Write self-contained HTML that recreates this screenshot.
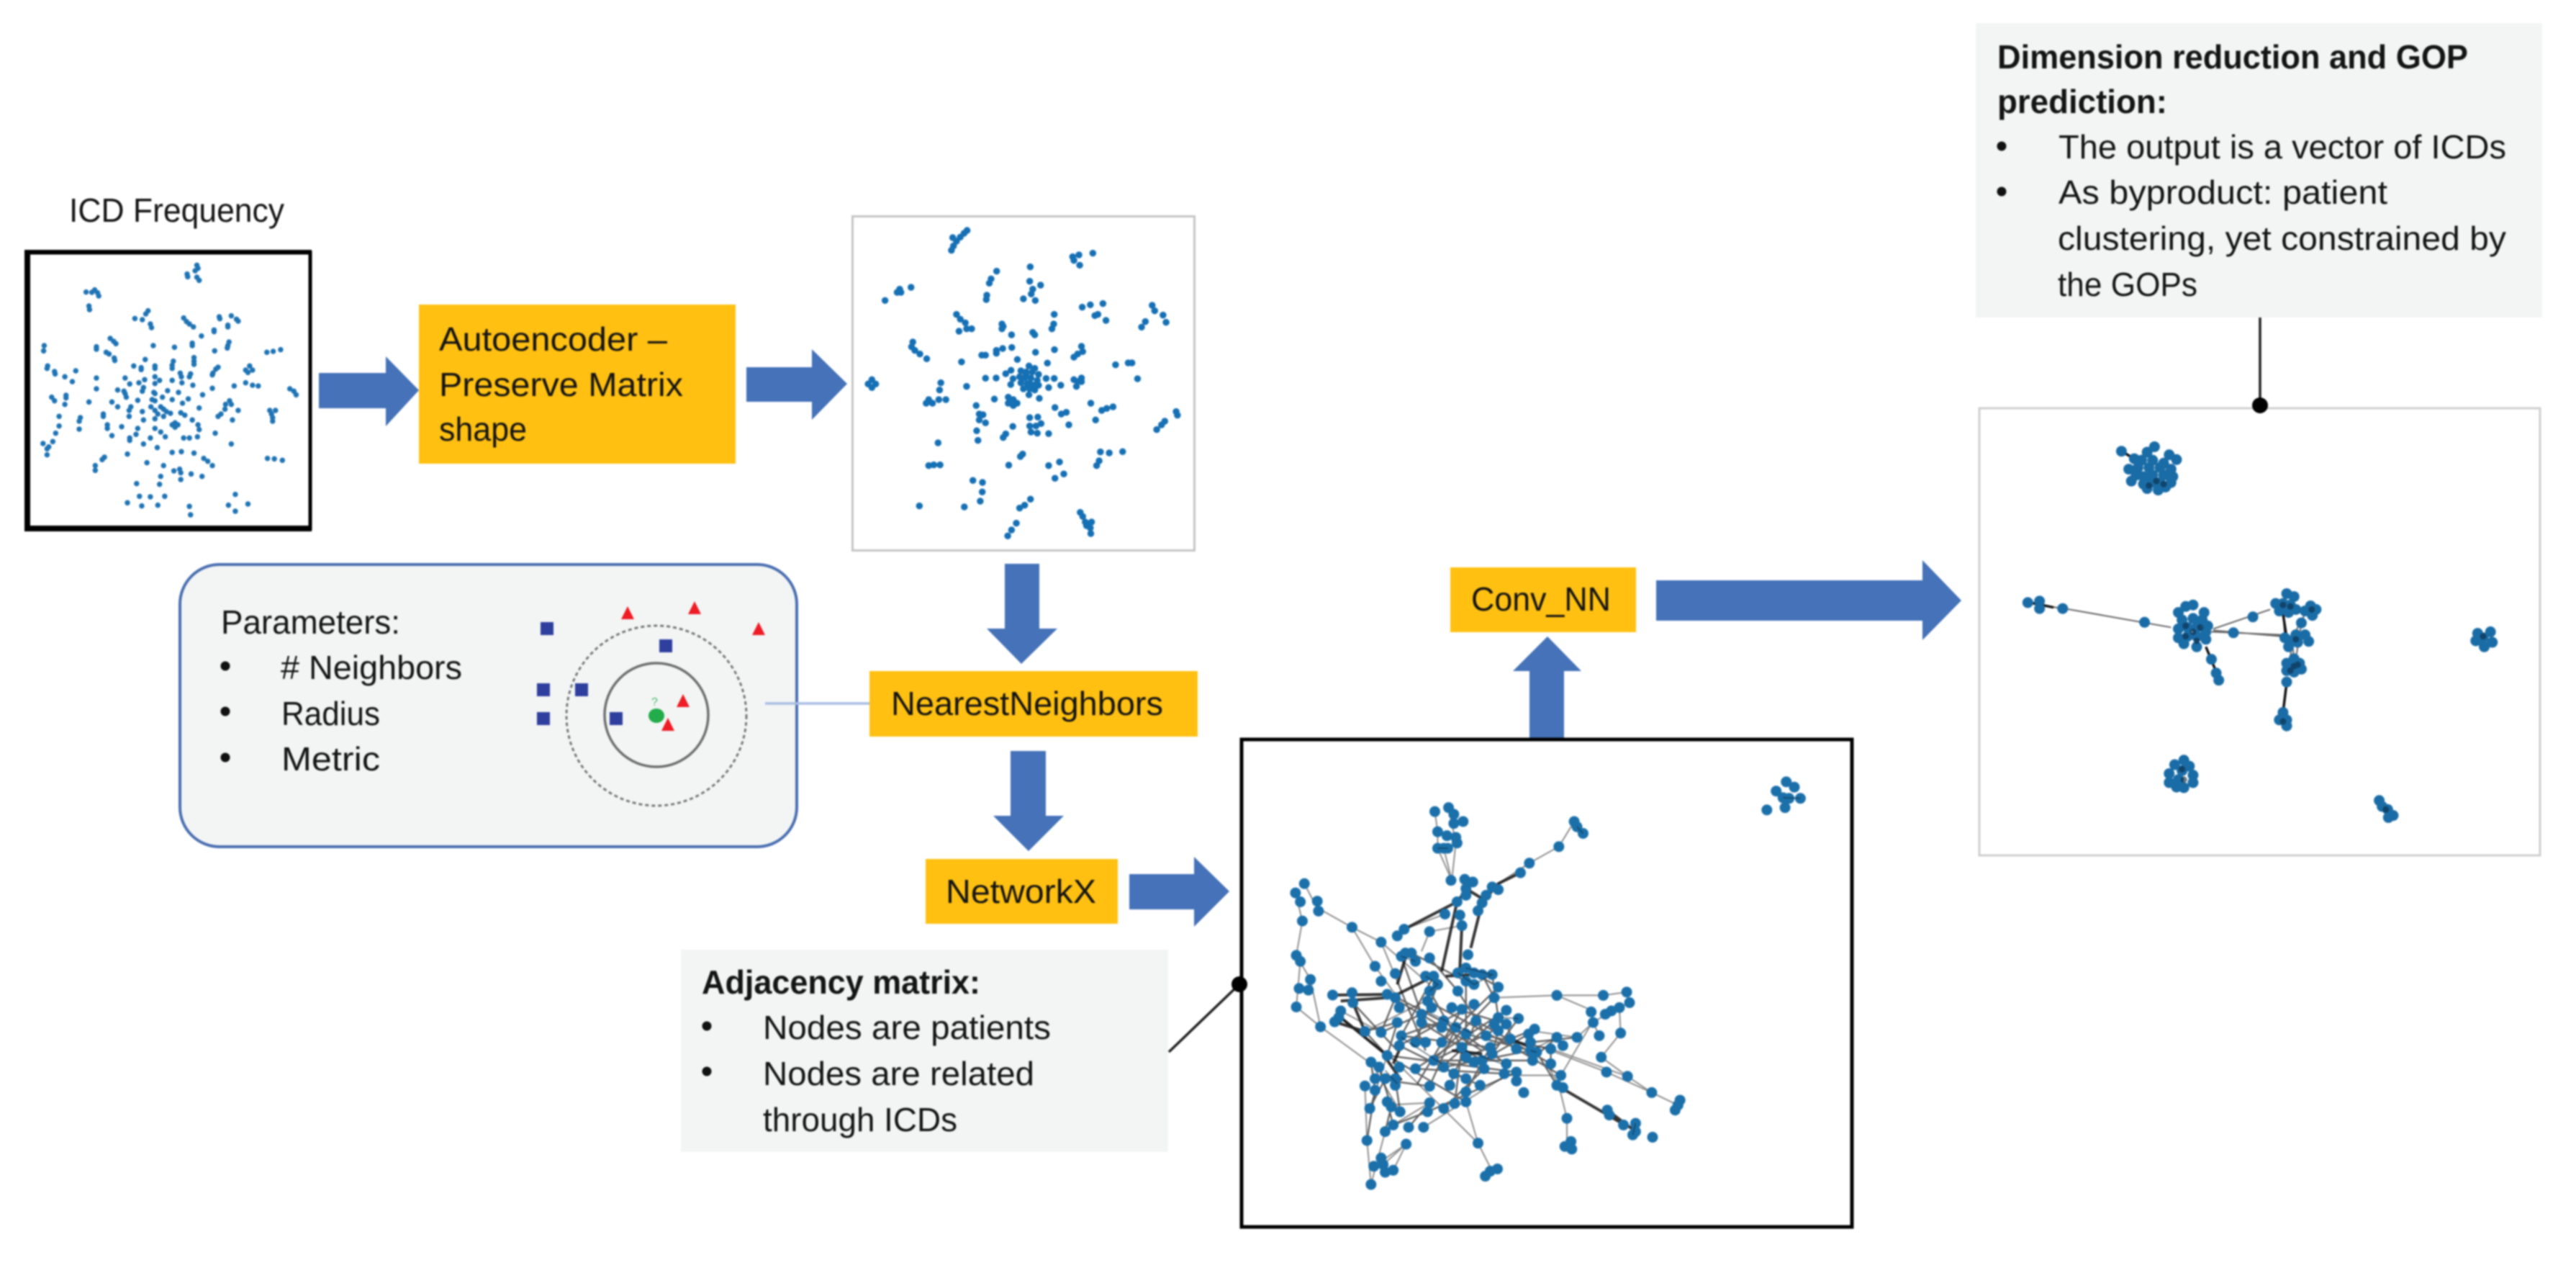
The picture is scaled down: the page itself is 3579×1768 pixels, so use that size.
<!DOCTYPE html>
<html><head><meta charset="utf-8"><title>Diagram</title>
<style>
html,body{margin:0;padding:0;background:#fff;width:3579px;height:1768px;overflow:hidden}
svg{display:block;filter:blur(1px)}
text{font-family:"Liberation Sans",sans-serif;font-size:46px;fill:#141414}
.b{font-weight:bold}
.d{fill:none;stroke-linecap:round;vector-effect:non-scaling-stroke}
.e{fill:none;vector-effect:non-scaling-stroke}
</style></head><body>
<svg xmlns="http://www.w3.org/2000/svg" width="3579" height="1768" viewBox="0 0 3579 1768">
<rect width="3579" height="1768" fill="#fff"/>

<!-- ICD frequency frame -->
<text x="96" y="308" textLength="299" lengthAdjust="spacingAndGlyphs">ICD Frequency</text>
<path d="M37 351H431V734H37Z" fill="#fff" stroke="#000" stroke-width="5"/>
<rect x="34" y="348" width="8" height="390" fill="#000"/><rect x="34" y="347" width="399" height="6" fill="#000"/><rect x="34" y="730" width="399" height="8" fill="#000"/>
<g transform="translate(0 250) scale(.7974 .3333)"><path class="d" stroke="#1f74b4" stroke-width="7.500" d="M343 355h.01M345 368h.01M340 378h.01M326 392h.01M327 403h.01M343 405h.01M347 418h.01M165 458h.01M150 467h.01M160 468h.01M170 470h.01M172 483h.01M155 525h.01M156 540h.01M258 545h.01M254 558h.01M235 577h.01M248 582h.01M262 600h.01M264 615h.01M320 575h.01M325 590h.01M330 600h.01M337 612h.01M382 570h.01M383 578h.01M403 566h.01M412 580h.01M415 588h.01M397 605h.01M397 612h.01M373 625h.01M373 632h.01M351 650h.01M192 660h.01M198 672h.01M202 682h.01M267 690h.01M304 697h.01M335 680h.01M335 690h.01M399 675h.01M397 690h.01M396 700h.01M77 690h.01M76 712h.01M168 695h.01M168 705h.01M185 718h.01M190 725h.01M199 742h.01M200 752h.01M374 712h.01M465 718h.01M476 714h.01M489 707h.01M253 748h.01M338 740h.01M338 755h.01M338 768h.01M302 755h.01M300 772h.01M300 785h.01M270 775h.01M270 785h.01M233 775h.01M246 782h.01M246 790h.01M380 780h.01M376 788h.01M371 805h.01M370 812h.01M83 775h.01M82 785h.01M95 798h.01M96 808h.01M132 795h.01M435 775h.01M428 792h.01M440 792h.01M432 802h.01M314 805h.01M332 808h.01M330 820h.01M316 820h.01M168 825h.01M113 820h.01M126 840h.01M218 825h.01M270 820h.01M278 835h.01M270 848h.01M252 832h.01M242 845h.01M226 850h.01M300 835h.01M317 845h.01M336 855h.01M428 845h.01M440 855h.01M450 858h.01M408 858h.01M370 868h.01M168 870h.01M205 875h.01M216 880h.01M218 890h.01M220 905h.01M250 865h.01M248 880h.01M292 878h.01M270 890h.01M311 885h.01M353 895h.01M505 870h.01M512 880h.01M516 895h.01M90 905h.01M95 920h.01M115 897h.01M115 908h.01M113 935h.01M268 885h.01M283 905h.01M300 915h.01M328 912h.01M155 925h.01M195 925h.01M240 918h.01M265 915h.01M270 920h.01M318 930h.01M400 920h.01M393 935h.01M403 935h.01M205 945h.01M228 945h.01M263 945h.01M280 945h.01M270 960h.01M285 955h.01M290 965h.01M347 950h.01M392 955h.01M415 960h.01M470 960h.01M480 960h.01M473 975h.01M475 990h.01M475 1005h.01M225 960h.01M248 965h.01M275 975h.01M297 972h.01M315 970h.01M322 980h.01M385 975h.01M380 985h.01M103 985h.01M180 975h.01M180 985h.01M140 990h.01M138 1005h.01M225 985h.01M250 1000h.01M270 995h.01M285 985h.01M335 1000h.01M405 1000h.01M305 1012h.01M300 1020h.01M310 1020h.01M305 1030h.01M103 1025h.01M187 1020h.01M187 1035h.01M212 1028h.01M240 1035h.01M345 1020h.01M347 1040h.01M138 1038h.01M97 1055h.01M237 1060h.01M270 1035h.01M280 1050h.01M375 1055h.01M195 1065h.01M226 1075h.01M226 1085h.01M262 1075h.01M288 1070h.01M320 1075h.01M330 1075h.01M344 1070h.01M92 1090h.01M75 1098h.01M85 1112h.01M250 1100h.01M403 1100h.01M274 1115h.01M82 1120h.01M82 1145h.01M222 1142h.01M300 1135h.01M316 1132h.01M338 1138h.01M182 1155h.01M178 1165h.01M355 1160h.01M362 1172h.01M466 1160h.01M478 1162h.01M492 1168h.01M256 1178h.01M370 1190h.01M166 1190h.01M166 1210h.01M285 1190h.01M303 1212h.01M313 1205h.01M315 1220h.01M333 1225h.01M352 1235h.01M280 1235h.01M315 1248h.01M238 1265h.01M278 1268h.01M243 1318h.01M262 1320h.01M287 1318h.01M222 1345h.01M247 1358h.01M275 1355h.01M410 1310h.01M398 1355h.01M432 1350h.01M410 1380h.01M330 1360h.01M332 1395h.01"/></g>

<!-- arrow 1 -->
<path d="M443 518H536V495L582 542L536 592V567H443Z" fill="#4572b8"/>
<rect x="582" y="423" width="440" height="221" fill="#ffc012"/>
<text x="610" y="487" textLength="317" lengthAdjust="spacingAndGlyphs">Autoencoder –</text>
<text x="610" y="550" textLength="339" lengthAdjust="spacingAndGlyphs">Preserve Matrix</text>
<text x="610" y="612" textLength="122" lengthAdjust="spacingAndGlyphs">shape</text>
<path d="M1037 510H1128V485L1177 533L1128 583V558H1037Z" fill="#4572b8"/>

<!-- scatter 2 -->
<rect x="1184.500" y="300.500" width="475" height="464" fill="#fff" stroke="#c4c4c4" stroke-width="3"/>
<g transform="translate(1150 280) scale(.3508 .3333)"><path class="d" stroke="#1670b4" stroke-width="9.500" d="M552 120h.01M540 132h.01M525 148h.01M495 150h.01M510 165h.01M498 185h.01M490 203h.01M1050 215h.01M995 222h.01M970 230h.01M975 245h.01M998 265h.01M802 272h.01M669 290h.01M647 322h.01M640 340h.01M800 332h.01M843 348h.01M812 365h.01M806 385h.01M330 357h.01M285 365h.01M275 378h.01M290 378h.01M227 412h.01M775 405h.01M822 412h.01M630 390h.01M628 408h.01M1040 430h.01M1008 440h.01M1090 425h.01M1285 432h.01M1295 455h.01M897 470h.01M1070 470h.01M1058 475h.01M1102 495h.01M1328 473h.01M1340 503h.01M1258 500h.01M1243 523h.01M510 470h.01M525 490h.01M545 505h.01M520 540h.01M550 530h.01M570 530h.01M690 510h.01M690 530h.01M695 520h.01M895 510h.01M888 530h.01M812 545h.01M820 555h.01M728 555h.01M1005 603h.01M1010 625h.01M990 635h.01M975 648h.01M337 585h.01M332 605h.01M345 620h.01M365 635h.01M392 655h.01M898 617h.01M729 608h.01M693 612h.01M668 620h.01M668 632h.01M610 640h.01M625 640h.01M823 628h.01M870 673h.01M751 658h.01M530 668h.01M1140 680h.01M1190 672h.01M1205 672h.01M765 705h.01M797 685h.01M820 695h.01M785 710h.01M810 710h.01M835 720h.01M760 730h.01M780 735h.01M805 735h.01M830 745h.01M765 755h.01M790 760h.01M815 765h.01M835 765h.01M775 780h.01M800 780h.01M820 785h.01M797 805h.01M785 720h.01M800 755h.01M705 717h.01M726 703h.01M734 738h.01M725 762h.01M625 736h.01M667 735h.01M865 737h.01M897 737h.01M923 765h.01M875 775h.01M1227 738h.01M975 742h.01M1005 735h.01M990 750h.01M985 770h.01M1005 750h.01M448 755h.01M443 785h.01M550 770h.01M175 742h.01M160 760h.01M175 775h.01M190 760h.01M400 825h.01M390 840h.01M415 840h.01M440 825h.01M468 825h.01M660 823h.01M838 820h.01M715 815h.01M735 825h.01M715 840h.01M735 850h.01M750 840h.01M588 850h.01M900 858h.01M1042 840h.01M1130 855h.01M1105 862h.01M1085 870h.01M945 878h.01M925 885h.01M600 885h.01M615 888h.01M600 910h.01M625 922h.01M1061 910h.01M800 900h.01M832 898h.01M845 925h.01M800 935h.01M825 935h.01M830 965h.01M805 960h.01M955 930h.01M733 937h.01M590 955h.01M595 995h.01M875 967h.01M705 968h.01M695 983h.01M437 1005h.01M772 1052h.01M763 1062h.01M1080 1043h.01M1115 1047h.01M1168 1042h.01M1075 1080h.01M1065 1100h.01M400 1100h.01M420 1097h.01M445 1097h.01M717 1098h.01M875 1100h.01M918 1085h.01M935 1135h.01M900 1153h.01M575 1162h.01M613 1170h.01M612 1210h.01M604 1248h.01M803 1240h.01M780 1265h.01M760 1277h.01M363 1268h.01M541 1272h.01M1000 1295h.01M1010 1312h.01M1020 1335h.01M1045 1335h.01M1025 1350h.01M1040 1360h.01M1042 1383h.01M747 1340h.01M728 1368h.01M713 1393h.01M1380 875h.01M1385 890h.01M1335 915h.01M1322 930h.01M1303 950h.01"/></g>

<!-- parameters panel -->
<rect x="250" y="784" width="857" height="392" rx="55" ry="55" fill="#f3f5f5" stroke="#4a6fb0" stroke-width="4"/>
<text x="307" y="880" textLength="249" lengthAdjust="spacingAndGlyphs">Parameters:</text>
<circle cx="313" cy="925" r="6.500" fill="#111"/><text x="390" y="943" textLength="252" lengthAdjust="spacingAndGlyphs"># Neighbors</text>
<circle cx="313" cy="988" r="6.500" fill="#111"/><text x="391" y="1007" textLength="137" lengthAdjust="spacingAndGlyphs">Radius</text>
<circle cx="313" cy="1052" r="6.500" fill="#111"/><text x="391" y="1070" textLength="137" lengthAdjust="spacingAndGlyphs">Metric</text>
<circle cx="912" cy="994" r="125" fill="none" stroke="#777" stroke-width="3" stroke-dasharray="5 4"/>
<circle cx="912" cy="993" r="72" fill="none" stroke="#6e6e6e" stroke-width="3.500"/>
<g fill="#2f3f9e"><rect x="751" y="864" width="18" height="18"/><rect x="916" y="888" width="18" height="18"/><rect x="746" y="949" width="18" height="18"/><rect x="799" y="949" width="18" height="18"/><rect x="746" y="989" width="18" height="18"/><rect x="847" y="989" width="18" height="18"/></g>
<g fill="#ee1c25"><path d="M872 842l9 18h-18z"/><path d="M965 835l9 18h-18z"/><path d="M1054 864l9 18h-18z"/><path d="M949 964l9 18h-18z"/><path d="M928 997l9 18h-18z"/></g>
<ellipse cx="912" cy="994" rx="11" ry="10" fill="#22ac4a"/>
<text x="905" y="980" style="font-size:16px;fill:#47b96a">?</text>
<path d="M1063 977H1208" stroke="#a9bde3" stroke-width="3.500"/>

<!-- nearest neighbours column -->
<path d="M1396 783H1444V873H1469L1419 922L1371 873H1396Z" fill="#4572b8"/>
<rect x="1208" y="932" width="456" height="91" fill="#ffc012"/>
<text x="1238" y="993" textLength="378" lengthAdjust="spacingAndGlyphs">NearestNeighbors</text>
<path d="M1404 1043H1453V1133H1478L1429 1182L1380 1133H1404Z" fill="#4572b8"/>
<rect x="1286" y="1193" width="267" height="90" fill="#ffc012"/>
<text x="1314" y="1254" textLength="209" lengthAdjust="spacingAndGlyphs">NetworkX</text>
<path d="M1569 1214H1659V1190L1708 1238L1659 1287V1263H1569Z" fill="#4572b8"/>

<!-- adjacency -->
<rect x="946" y="1319" width="677" height="281" fill="#f3f5f5"/>
<text x="975" y="1380" class="b" textLength="387" lengthAdjust="spacingAndGlyphs">Adjacency matrix:</text>
<circle cx="982" cy="1425" r="6.500" fill="#111"/><text x="1060" y="1443" textLength="400" lengthAdjust="spacingAndGlyphs">Nodes are patients</text>
<circle cx="982" cy="1488" r="6.500" fill="#111"/><text x="1060" y="1507" textLength="377" lengthAdjust="spacingAndGlyphs">Nodes are related</text>
<text x="1060" y="1571" textLength="270" lengthAdjust="spacingAndGlyphs">through ICDs</text>
<path d="M1624 1461L1722 1367" stroke="#222" stroke-width="3.500"/>

<!-- up arrow + Conv -->
<path d="M2125 1026V932H2102L2150 884L2197 932H2173V1026Z" fill="#4572b8"/>
<rect x="1725" y="1027" width="848" height="677" fill="#fff" stroke="#000" stroke-width="5"/>
<ellipse cx="1722" cy="1367" rx="11" ry="11" fill="#000"/>
<rect x="2015" y="788" width="258" height="90" fill="#ffc012"/>
<text x="2044" y="848" textLength="194" lengthAdjust="spacingAndGlyphs">Conv_NN</text>
<path d="M2301 806H2671V778L2725 834L2671 889V862H2301Z" fill="#4572b8"/>

<!-- graph 1 -->
<g transform="translate(1700 1000) scale(.5612 .4591)">
<path class="e" stroke="#333" stroke-opacity=".55" stroke-width="2" d="M530 388L565 485M575 372L565 485M545 388L565 485M530 338L530 388M557 265L575 372M523 277L530 338M868 307L830 383L757 433L680 495M200 495L235 578M178 523L195 608M235 570L318 627L390 672M390 672L430 790M390 672L510 800M318 627L375 745L425 830M195 608L180 712L215 785L240 928L360 1035M190 730L180 868L240 928M670 840L825 833L940 833M825 833L915 880M940 833L998 823L1005 855L960 880L915 915L930 955M983 947L935 1020L1000 1078M983 947L980 870M1000 1078L1060 1127L1125 1165M800 990L1000 1078M790 990L948 1065L1060 1127M760 940L875 960L915 915M825 960L760 1000M800 1040L830 1105L850 1205L850 1285M630 1280L440 1050M630 1280L665 1365M495 1232L700 1075M835 1075L910 920M700 1075L835 1075M510 1158L400 1165M420 1225L510 1158M452 1283L395 1345M452 1283L372 1350M452 1283L420 1362M355 1272L365 1405M400 1245L365 1405M355 1272L350 1107M362 1175L405 1015M437 1185L365 1035M600 1155L630 1280M390 945L290 880M350 942L500 850M590 622L510 640L490 700M447 633L548 587"/>
<path class="e" stroke="#222" stroke-opacity=".7" stroke-width="2.400" d="M430 840L600 950M505 850L725 995M620 860L435 985M700 878L475 1055M680 808L540 975M670 840L520 1030M600 790L600 1020M580 820L650 955M510 820L590 990M530 800L475 975M490 915L640 1030M545 910L700 1040M625 910L810 1040M650 955L810 995M440 955L660 990M430 915L405 1015M435 985L600 1085M405 1015L725 1065M475 1055L695 1070M520 1030L765 1030M545 1050L760 1000M600 1020L770 935M640 1030L755 950M680 940L665 1010M700 920L725 995M730 903L665 1010M575 930L510 1108M625 910L560 1105M590 990L572 1160M660 990L600 1125M725 1065L505 1185M645 1055L545 1175M570 1070L635 1105M375 1085L510 1108M405 1015L600 1155M365 1035L375 1120M385 1050L415 1170M425 1085L437 1185M400 1085L362 1175M405 1155L420 1225M510 1158L458 1232M375 1120L355 1272M400 1245L415 1170M505 1185L420 1225M290 900L405 1015M320 855L430 1000M350 942L405 1015M425 840L390 945M490 890L390 945M430 915L350 942M440 715L490 890M465 705L600 790M510 720L580 820M440 955L545 910M600 750L680 808M640 770L670 840M665 770L680 900M825 960L760 1030M810 995L810 1040M775 1005L825 1105M725 995L835 1075M760 975L875 960M430 790L500 1000M405 830L640 1000M520 775L440 955M565 870L700 920M590 875L480 1100M680 900L540 1050M490 915L760 1000M700 920L520 1030"/>
<path class="e" stroke="#111" stroke-opacity=".85" stroke-width="4" d="M735 462L680 495L640 553L612 690M597 520L578 550L540 760M590 622L585 750M578 550L447 633M270 832L420 830M290 850L405 840M430 830L520 775M550 775L620 770M290 900L400 1010M640 540L600 510M825 1105L1000 1230M950 1180L1020 1245M450 720L430 800M565 1000L640 1010M700 960L760 990M400 1020L440 1090M275 913L350 942M320 855L350 942M440 985L420 1040"/>
<path class="d" stroke="#1b70aa" stroke-width="15" d="M1393 187h.01M1413 203h.01M1368 215h.01M1385 235h.01M1400 237h.01M1428 237h.01M1345 272h.01M1390 265h.01M523 277h.01M557 265h.01M570 285h.01M593 307h.01M570 313h.01M530 338h.01M553 350h.01M575 355h.01M578 372h.01M530 388h.01M545 388h.01M555 388h.01M868 307h.01M875 323h.01M890 343h.01M830 383h.01M757 433h.01M735 462h.01M563 485h.01M597 482h.01M617 490h.01M600 510h.01M600 530h.01M578 550h.01M665 505h.01M680 513h.01M650 530h.01M640 553h.01M630 577h.01M585 590h.01M548 587h.01M590 622h.01M510 640h.01M447 633h.01M430 653h.01M390 672h.01M318 627h.01M200 495h.01M178 523h.01M190 550h.01M232 548h.01M235 578h.01M195 608h.01M180 712h.01M190 730h.01M215 785h.01M187 812h.01M210 817h.01M180 868h.01M240 928h.01M605 710h.01M450 705h.01M440 715h.01M465 705h.01M475 730h.01M510 720h.01M375 745h.01M425 767h.01M390 790h.01M600 750h.01M580 765h.01M620 765h.01M640 770h.01M665 770h.01M600 790h.01M620 800h.01M580 820h.01M500 775h.01M520 775h.01M530 800h.01M510 820h.01M680 808h.01M670 840h.01M825 833h.01M940 833h.01M998 823h.01M1005 855h.01M980 870h.01M960 880h.01M945 890h.01M910 883h.01M915 915h.01M930 955h.01M983 947h.01M935 1020h.01M948 1065h.01M1000 1078h.01M1060 1127h.01M1130 1150h.01M1125 1165h.01M1118 1180h.01M270 832h.01M318 825h.01M320 855h.01M405 830h.01M425 840h.01M290 880h.01M275 913h.01M285 900h.01M350 942h.01M390 945h.01M435 870h.01M505 850h.01M515 870h.01M490 890h.01M565 870h.01M590 875h.01M620 860h.01M700 878h.01M680 900h.01M730 903h.01M700 920h.01M670 920h.01M430 915h.01M440 955h.01M490 915h.01M545 910h.01M575 930h.01M625 910h.01M540 930h.01M600 950h.01M650 955h.01M680 940h.01M710 965h.01M770 935h.01M755 950h.01M760 975h.01M825 960h.01M875 960h.01M840 985h.01M810 995h.01M435 985h.01M475 975h.01M500 975h.01M540 975h.01M590 990h.01M660 990h.01M725 995h.01M760 1000h.01M775 1005h.01M405 1015h.01M365 1035h.01M385 1050h.01M435 1050h.01M475 1055h.01M520 1030h.01M545 1050h.01M600 1020h.01M640 1030h.01M620 1035h.01M665 1010h.01M700 1040h.01M765 1030h.01M810 1040h.01M350 1107h.01M375 1085h.01M400 1085h.01M425 1085h.01M375 1120h.01M425 1105h.01M510 1108h.01M560 1105h.01M600 1125h.01M635 1105h.01M570 1070h.01M600 1085h.01M645 1055h.01M695 1070h.01M725 1065h.01M725 1092h.01M743 1127h.01M835 1075h.01M825 1105h.01M840 1112h.01M362 1175h.01M405 1155h.01M415 1170h.01M437 1185h.01M510 1158h.01M505 1185h.01M545 1175h.01M572 1160h.01M600 1155h.01M850 1205h.01M950 1180h.01M955 1195h.01M990 1225h.01M1020 1220h.01M1020 1245h.01M1013 1255h.01M1062 1262h.01M420 1225h.01M400 1245h.01M458 1232h.01M495 1232h.01M355 1272h.01M452 1283h.01M630 1280h.01M678 1358h.01M660 1365h.01M648 1380h.01M845 1290h.01M860 1275h.01M862 1298h.01M390 1325h.01M372 1350h.01M395 1345h.01M420 1362h.01M400 1368h.01M365 1405h.01"/>
<path class="e" stroke="#0d2a40" stroke-opacity=".5" stroke-width="2" d="M600 750L665 770L620 800L580 765M500 775L530 800L510 820M440 715L475 730M530 388L555 388M1385 235L1428 237M875 323L890 343M690 900L730 903M760 1000L775 1005M1020 1220L1013 1255M500 880L620 950M440 960L540 1040M600 1000L690 1040M400 1060L430 1100"/>
</g>

<!-- top-right text box -->
<rect x="2745" y="32" width="787" height="409" fill="#f3f5f5"/>
<text x="2775" y="95" class="b" textLength="654" lengthAdjust="spacingAndGlyphs">Dimension reduction and GOP</text>
<text x="2775" y="157" class="b" textLength="236" lengthAdjust="spacingAndGlyphs">prediction:</text>
<circle cx="2781" cy="203" r="6.500" fill="#111"/><text x="2860" y="220" textLength="622" lengthAdjust="spacingAndGlyphs">The output is a vector of ICDs</text>
<circle cx="2781" cy="266" r="6.500" fill="#111"/><text x="2860" y="283" textLength="457" lengthAdjust="spacingAndGlyphs">As byproduct: patient</text>
<text x="2859" y="347" textLength="623" lengthAdjust="spacingAndGlyphs">clustering, yet constrained by</text>
<text x="2859" y="411" textLength="194" lengthAdjust="spacingAndGlyphs">the GOPs</text>
<path d="M3140 441V563" stroke="#222" stroke-width="3.500"/>

<!-- right graph frame -->
<rect x="2750" y="567" width="779" height="621" fill="#fff" stroke="#cfcfcf" stroke-width="3"/>
<circle cx="3140" cy="563" r="11" fill="#000"/>
<g transform="translate(2700 550) scale(.5102 .4146)">
<path class="e" stroke="#333" stroke-opacity=".75" stroke-width="2" d="M330 712L620 775M230 692L325 712M262 700L325 712M735 780L890 715M735 785L920 805M730 790L920 800M925 720L930 810M950 820L955 880M985 730L950 810L945 880M975 760L960 880"/>
<path class="e" stroke="#111" stroke-width="3.500" d="M935 960L925 1060M715 840L745 930M485 185L520 210M925 730L935 810M235 692L300 708"/>
<path class="d" stroke="#1a6ca6" stroke-width="15" d="M485 185h.01M575 170h.01M555 188h.01M615 197h.01M635 213h.01M520 210h.01M540 215h.01M570 215h.01M600 225h.01M505 245h.01M530 240h.01M560 240h.01M590 240h.01M620 245h.01M512 285h.01M525 265h.01M545 270h.01M570 265h.01M600 265h.01M625 270h.01M545 295h.01M565 290h.01M590 290h.01M620 290h.01M555 310h.01M585 315h.01M605 305h.01M680 700h.01M660 705h.01M640 725h.01M710 725h.01M650 750h.01M680 745h.01M705 750h.01M720 770h.01M640 780h.01M665 775h.01M690 775h.01M715 790h.01M640 810h.01M665 805h.01M690 805h.01M715 815h.01M655 830h.01M690 840h.01M230 692h.01M262 687h.01M262 712h.01M325 712h.01M548 758h.01M843 740h.01M790 793h.01M935 662h.01M955 672h.01M905 695h.01M925 695h.01M945 700h.01M915 720h.01M940 725h.01M960 715h.01M1000 703h.01M985 720h.01M1015 715h.01M1005 735h.01M975 760h.01M930 810h.01M960 800h.01M985 800h.01M995 822h.01M945 820h.01M965 825h.01M940 840h.01M955 880h.01M935 895h.01M970 895h.01M935 920h.01M955 925h.01M975 915h.01M955 905h.01M935 958h.01M925 1060h.01M915 1085h.01M935 1085h.01M935 1105h.01M730 882h.01M743 928h.01M750 952h.01M1490 790h.01M1455 795h.01M1470 810h.01M1495 825h.01M1450 820h.01M1473 840h.01M655 1220h.01M630 1235h.01M670 1240h.01M615 1265h.01M650 1255h.01M680 1270h.01M615 1295h.01M640 1285h.01M680 1295h.01M635 1310h.01M655 1312h.01M1187 1355h.01M1195 1375h.01M1210 1385h.01M1225 1405h.01M1212 1412h.01"/>
<path class="d" stroke="#0b2f4b" stroke-opacity=".65" stroke-width="9" d="M580 285h.01M560 300h.01M600 295h.01M660 770h.01M680 790h.01M700 775h.01M660 805h.01M690 820h.01M925 700h.01M945 705h.01M955 905h.01M945 920h.01M965 900h.01M650 1250h.01M655 1285h.01M925 1090h.01M1470 805h.01M960 815h.01M1205 1385h.01M1003 715h.01"/>
</g>
</svg>
</body></html>
